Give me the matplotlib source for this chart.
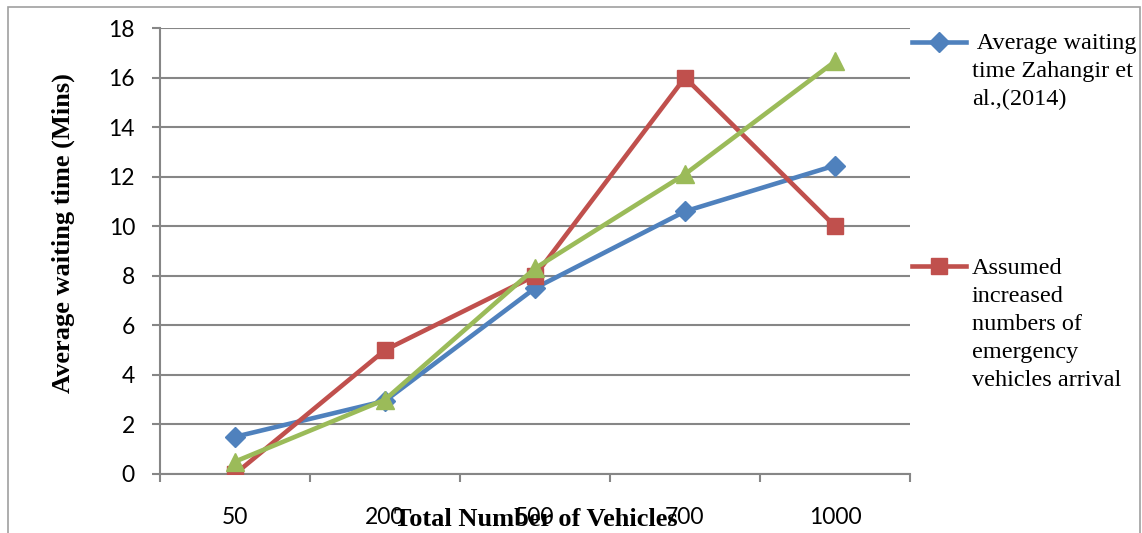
import matplotlib
matplotlib.use("Agg")
import matplotlib.pyplot as plt
from matplotlib.lines import Line2D
from matplotlib.patches import Rectangle

categories = ["50", "200", "500", "700", "1000"]
zahangir = [1.5, 2.95, 7.5, 10.6, 12.45]
assumed = [0.0, 5.0, 8.0, 16.0, 10.0]
third = [0.5, 3.0, 8.3, 12.1, 16.65]
yticks = [0, 2, 4, 6, 8, 10, 12, 14, 16, 18]

label_zahangir = [" Average waiting", "time Zahangir et", "al.,(2014)"]
label_assumed = ["Assumed", "increased", "numbers of", "emergency", "vehicles arrival"]

BLUE = "#4F81BD"
RED = "#C0504D"
GREEN = "#9BBB59"
GRID = "#868686"

W, H = 1142, 533
fig = plt.figure(figsize=(W / 100, H / 100), dpi=100)
ax = fig.add_axes([160 / W, (H - 474) / H, 750 / W, 446 / H])

x = list(range(len(categories)))
ax.plot(x, zahangir, color=BLUE, lw=3.3, marker="D", ms=10, zorder=3)
ax.plot(x, assumed, color=RED, lw=3.3, marker="s", ms=11.5, zorder=3)
ax.plot(x, third, color=GREEN, lw=3.3, marker="^", ms=13, zorder=4)

ax.set_xlim(-0.5, len(categories) - 0.5)
ax.set_ylim(0, 18)
ax.set_yticks(yticks)
ax.set_yticklabels([str(v) for v in yticks], fontfamily="Lato", fontsize=16.5)
ax.yaxis.grid(True, color=GRID, lw=1.5)
ax.set_axisbelow(True)

ax.set_xticks([i - 0.5 for i in range(len(categories) + 1)])
ax.set_xticklabels([])
ax.set_xticks(x, minor=True)
ax.set_xticklabels(categories, minor=True, fontfamily="Lato", fontsize=16.5)
ax.tick_params(axis="x", which="major", length=6, width=1.5, color=GRID)
ax.tick_params(axis="x", which="minor", length=0, pad=24)
ax.tick_params(axis="y", length=6, width=1.5, color=GRID, pad=12)

for s in ["top", "right"]:
    ax.spines[s].set_visible(False)
for s in ["left", "bottom"]:
    ax.spines[s].set_color(GRID)
    ax.spines[s].set_linewidth(1.5)

fig.text(63 / W, (H - 233) / H, "Average waiting time (Mins)", rotation=90,
         ha="center", va="center", fontfamily="Liberation Serif",
         fontweight="bold", fontsize=19)
fig.text(536 / W, (H - 519) / H, "Total Number of Vehicles",
         ha="center", va="center", fontfamily="Liberation Serif",
         fontweight="bold", fontsize=19)

# legend
def legend_entry(y_line, color, marker, ms, lines, first_base):
    fig.add_artist(Line2D([912 / W, 966 / W], [(H - y_line) / H] * 2,
                          color=color, lw=3.3, marker=None))
    fig.add_artist(Line2D([939 / W], [(H - y_line) / H], color=color,
                          marker=marker, ms=ms, lw=0))
    for i, t in enumerate(lines):
        fig.text(972 / W, (H - (first_base + 28 * i)) / H, t,
                 ha="left", va="baseline", fontfamily="Liberation Serif",
                 fontsize=17.5)

legend_entry(42, BLUE, "D", 10, label_zahangir, 49)
legend_entry(266, RED, "s", 11.5, label_assumed, 274)

fig.add_artist(Rectangle((8 / W, -0.1), (1140 - 8) / W, (H - 7) / H + 0.1,
                         transform=fig.transFigure, fill=False,
                         edgecolor="#A0A0A0", lw=1.2))

fig.savefig("out.png", dpi=100)
